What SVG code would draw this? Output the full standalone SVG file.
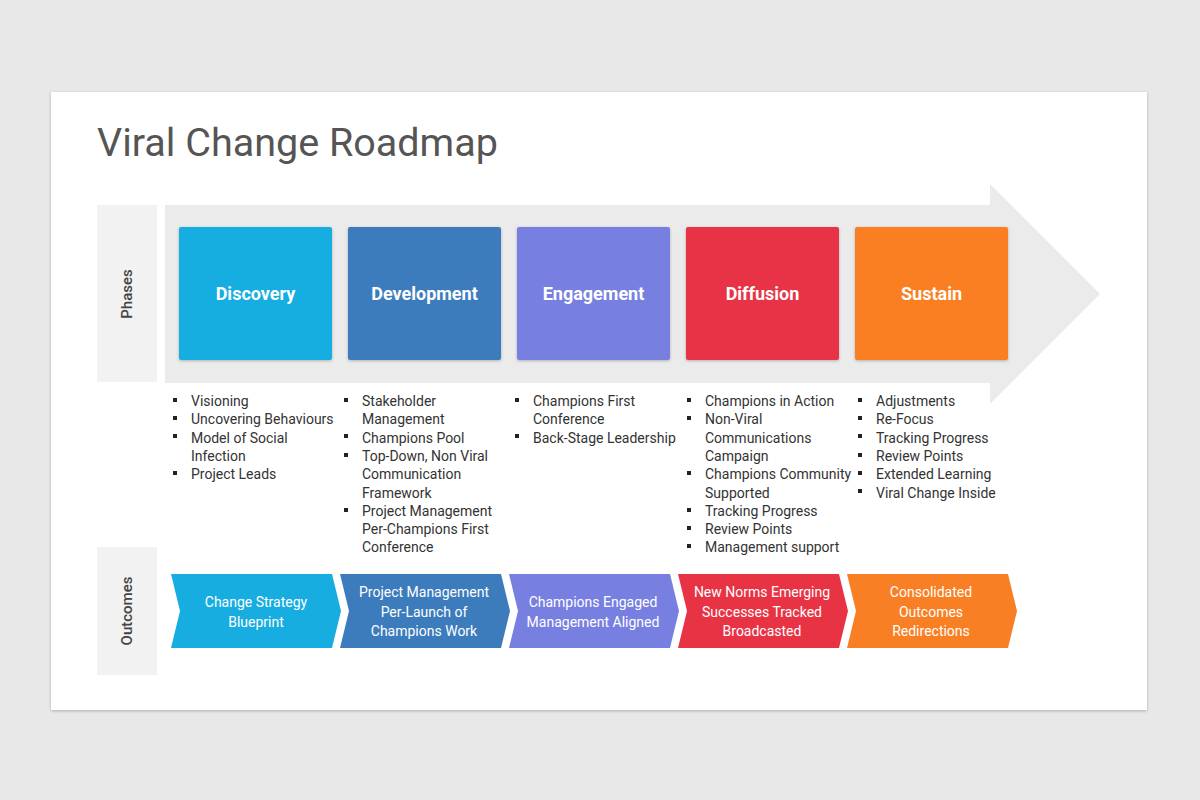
<svg xmlns="http://www.w3.org/2000/svg" width="1200" height="800" viewBox="0 0 1200 800">
<style>
text{font-family:Roboto,"Liberation Sans",sans-serif}
.ph{font-size:18px;font-weight:bold;fill:#fff;text-anchor:middle}
.oc{font-size:14px;fill:#fff;text-anchor:middle}
.bl{font-size:14px;fill:#333}
.side{font-size:15px;font-weight:500;fill:#444;text-anchor:middle}
</style>
<defs><filter id="sh" x="-5%" y="-5%" width="110%" height="115%"><feDropShadow dx="0" dy="1" stdDeviation="1.5" flood-opacity="0.25"/></filter></defs>
<rect width="1200" height="800" fill="#e9e8e8"/>
<rect x="51" y="92" width="1096" height="618" fill="#fff" filter="url(#sh)"/>
<text x="97" y="156" font-size="39.5" fill="#555">Viral Change Roadmap</text>
<g id="connectors">
<path d="M165 205H990V184L1100 294L990 404V383H165Z" fill="#ebebeb"/>
</g>
<g id="labels">
<rect x="97" y="205" width="60" height="177" fill="#f2f2f2"/>
<text class="side" transform="translate(132 294) rotate(-90)">Phases</text>
<rect x="97" y="547" width="60" height="128" fill="#f2f2f2"/>
<text class="side" transform="translate(132 611) rotate(-90)">Outcomes</text>
</g>
<g id="phases">
<g id="p1"><rect x="179" y="227" width="153" height="133" rx="2" fill="#17ade0" filter="url(#sh)"/><text class="ph" x="255.5" y="300">Discovery</text></g>
<g id="p2"><rect x="348" y="227" width="153" height="133" rx="2" fill="#3c7bbc" filter="url(#sh)"/><text class="ph" x="424.5" y="300">Development</text></g>
<g id="p3"><rect x="517" y="227" width="153" height="133" rx="2" fill="#7780e0" filter="url(#sh)"/><text class="ph" x="593.5" y="300">Engagement</text></g>
<g id="p4"><rect x="686" y="227" width="153" height="133" rx="2" fill="#e83345" filter="url(#sh)"/><text class="ph" x="762.5" y="300">Diffusion</text></g>
<g id="p5"><rect x="855" y="227" width="153" height="133" rx="2" fill="#f97f24" filter="url(#sh)"/><text class="ph" x="931.5" y="300">Sustain</text></g>
</g>
<g id="bullets" class="bl">
<g fill="#222">
<rect x="173" y="398" width="4" height="4"/><rect x="173" y="416" width="4" height="4"/><rect x="173" y="434" width="4" height="4"/><rect x="173" y="471" width="4" height="4"/>
<rect x="344" y="398" width="4" height="4"/><rect x="344" y="434" width="4" height="4"/><rect x="344" y="453" width="4" height="4"/><rect x="344" y="508" width="4" height="4"/>
<rect x="515" y="398" width="4" height="4"/><rect x="515" y="434" width="4" height="4"/>
<rect x="687" y="398" width="4" height="4"/><rect x="687" y="416" width="4" height="4"/><rect x="687" y="471" width="4" height="4"/><rect x="687" y="508" width="4" height="4"/><rect x="687" y="526" width="4" height="4"/><rect x="687" y="544" width="4" height="4"/>
<rect x="858" y="398" width="4" height="4"/><rect x="858" y="416" width="4" height="4"/><rect x="858" y="434" width="4" height="4"/><rect x="858" y="453" width="4" height="4"/><rect x="858" y="471" width="4" height="4"/><rect x="858" y="489" width="4" height="4"/>
</g>
<text class="bl"><tspan x="191" y="406">Visioning</tspan><tspan x="191" y="424.3">Uncovering Behaviours</tspan><tspan x="191" y="442.6">Model of Social</tspan><tspan x="191" y="460.9">Infection</tspan><tspan x="191" y="479.2">Project Leads</tspan></text>
<text class="bl"><tspan x="362" y="406">Stakeholder</tspan><tspan x="362" y="424.3">Management</tspan><tspan x="362" y="442.6">Champions Pool</tspan><tspan x="362" y="460.9">Top-Down, Non Viral</tspan><tspan x="362" y="479.2">Communication</tspan><tspan x="362" y="497.5">Framework</tspan><tspan x="362" y="515.8">Project Management</tspan><tspan x="362" y="534.1">Per-Champions First</tspan><tspan x="362" y="552.4">Conference</tspan></text>
<text class="bl"><tspan x="533" y="406">Champions First</tspan><tspan x="533" y="424.3">Conference</tspan><tspan x="533" y="442.6">Back-Stage Leadership</tspan></text>
<text class="bl"><tspan x="705" y="406">Champions in Action</tspan><tspan x="705" y="424.3">Non-Viral</tspan><tspan x="705" y="442.6">Communications</tspan><tspan x="705" y="460.9">Campaign</tspan><tspan x="705" y="479.2">Champions Community</tspan><tspan x="705" y="497.5">Supported</tspan><tspan x="705" y="515.8">Tracking Progress</tspan><tspan x="705" y="534.1">Review Points</tspan><tspan x="705" y="552.4">Management support</tspan></text>
<text class="bl"><tspan x="876" y="406">Adjustments</tspan><tspan x="876" y="424.3">Re-Focus</tspan><tspan x="876" y="442.6">Tracking Progress</tspan><tspan x="876" y="460.9">Review Points</tspan><tspan x="876" y="479.2">Extended Learning</tspan><tspan x="876" y="497.5">Viral Change Inside</tspan></text>
</g>
<g id="outcomes">
<g id="o1"><path d="M171 574H332L341 611L332 648H171L180 611Z" fill="#17ade0"/><text class="oc" x="256" y="607">Change Strategy</text><text class="oc" x="256" y="627">Blueprint</text></g>
<g id="o2"><path d="M340 574H501L510 611L501 648H340L349 611Z" fill="#3c7bbc"/><text class="oc" x="424" y="597">Project Management</text><text class="oc" x="424" y="617">Per-Launch of</text><text class="oc" x="424" y="636">Champions Work</text></g>
<g id="o3"><path d="M509 574H670L679 611L670 648H509L518 611Z" fill="#7780e0"/><text class="oc" x="593" y="607">Champions Engaged</text><text class="oc" x="593" y="627">Management Aligned</text></g>
<g id="o4"><path d="M678 574H839L848 611L839 648H678L687 611Z" fill="#e83345"/><text class="oc" x="762" y="597">New Norms Emerging</text><text class="oc" x="762" y="617">Successes Tracked</text><text class="oc" x="762" y="636">Broadcasted</text></g>
<g id="o5"><path d="M847 574H1008L1017 611L1008 648H847L856 611Z" fill="#f97f24"/><text class="oc" x="931" y="597">Consolidated</text><text class="oc" x="931" y="617">Outcomes</text><text class="oc" x="931" y="636">Redirections</text></g>
</g>
</svg>
